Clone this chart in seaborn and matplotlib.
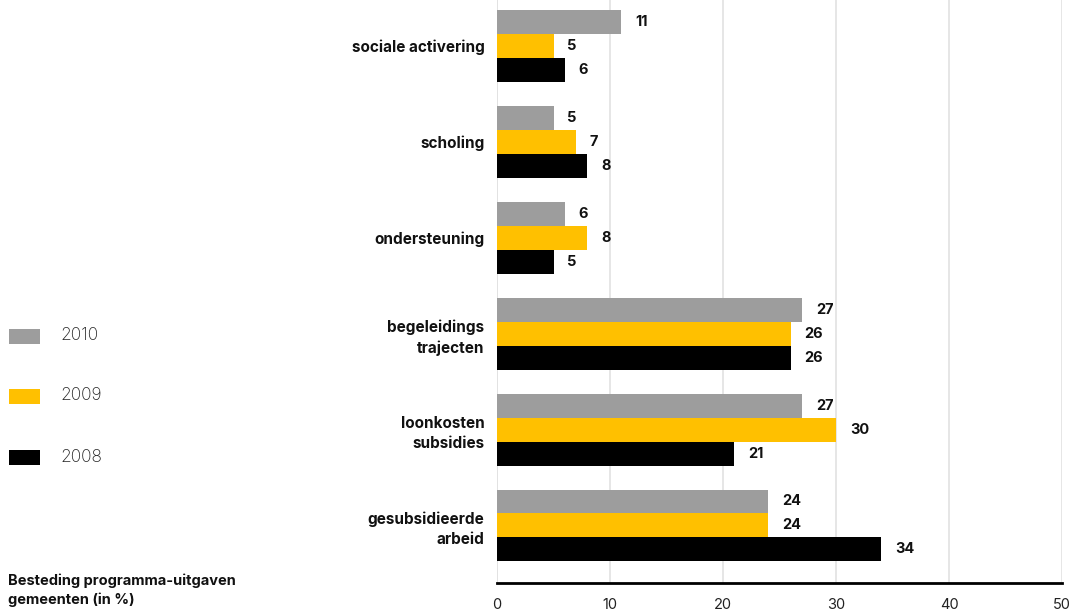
import matplotlib
matplotlib.use("Agg")
import matplotlib.pyplot as plt
import seaborn as sns
import pandas as pd
from matplotlib.patches import Rectangle

categories = ["sociale activering", "scholing", "ondersteuning",
              "begeleidings\ntrajecten", "loonkosten\nsubsidies", "gesubsidieerde\narbeid"]
years = ["2010", "2009", "2008"]
values_2010 = [11, 5, 6, 27, 27, 24]
values_2009 = [5, 7, 8, 26, 30, 24]
values_2008 = [6, 8, 5, 26, 21, 34]
xticks = [0, 10, 20, 30, 40, 50]
title = "Besteding programma-uitgaven\ngemeenten (in %)"

colors = {"2010": "#9d9d9d", "2009": "#ffc000", "2008": "#000000"}

rows = []
for yr, vals in zip(years, [values_2010, values_2009, values_2008]):
    for c, v in zip(categories, vals):
        rows.append({"cat": c, "year": yr, "value": v})
df = pd.DataFrame(rows)

sns.set_style("white")
plt.rcParams["font.family"] = ["Inter", "DejaVu Sans"]

fig = plt.figure(figsize=(10.69, 6.11), dpi=100)
ax = fig.add_axes([497 / 1069, 1 - 583 / 611, (1062 - 497) / 1069, 583 / 611])

sns.barplot(data=df, y="cat", x="value", hue="year", hue_order=years,
            order=categories, palette=colors, width=0.75, orient="h",
            saturation=1, ax=ax, legend=False, zorder=3, linewidth=0,
            edgecolor="none")

for cont in ax.containers:
    ax.bar_label(cont, padding=10, fontsize=10.5, fontweight="bold", color="#111111")

ax.set_xlim(0, 50)
ax.set_ylim(5.6, -0.48)
ax.set_xticks(xticks)
ax.set_xticklabels([str(t) for t in xticks], fontsize=10.5, color="#222222")
ax.tick_params(axis="x", length=0, pad=10.5)
ax.tick_params(axis="y", length=0, pad=9)
ax.set_yticks(range(len(categories)))
ax.set_yticklabels(categories, fontsize=11, fontweight="bold", color="#111111",
                   linespacing=1.4)
ax.set_xlabel("")
ax.set_ylabel("")
ax.grid(axis="x", color="#e2e2e2", linewidth=1.2, zorder=0)
ax.set_axisbelow(True)
for s in ["top", "right", "left"]:
    ax.spines[s].set_visible(False)
ax.spines["bottom"].set_color("#000000")
ax.spines["bottom"].set_linewidth(2)
ax.axvline(0, color="#e2e2e2", linewidth=1.2, zorder=0)

# legend at left
leg_y = [336, 396, 457]
for yr, yy in zip(years, leg_y):
    fig.patches.append(Rectangle((9 / 1069, 1 - (yy + 8) / 611), 31 / 1069, 15 / 611,
                                 transform=fig.transFigure, facecolor=colors[yr],
                                 edgecolor="none"))
    fig.text(60 / 1069, 1 - yy / 611, yr, fontsize=12.5, fontweight="light",
             color="#222222", va="center", ha="left")

fig.text(8 / 1069, 1 - 590 / 611, title, fontsize=10.5, fontweight="bold",
         color="#111111", va="center", ha="left", linespacing=1.35)

fig.savefig("out.png", dpi=100)
